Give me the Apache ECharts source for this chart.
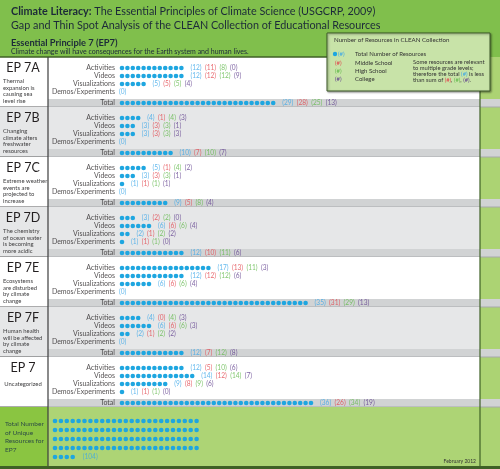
<!DOCTYPE html>
<html>
<head>
<meta charset="utf-8">
<script src="https://cdn.jsdelivr.net/npm/echarts@6/dist/echarts.min.js"></script>
<style>
html,body{margin:0;padding:0;background:#fff}
#main{width:500px;height:469px}
</style>
</head>
<body>
<div id="main"></div>
<script>
// 数据
var sections = ['EP 7A', 'EP 7B', 'EP 7C', 'EP 7D', 'EP 7E', 'EP 7F', 'EP 7'];
var sectionNotes = [
    ['Thermal', 'expansion is', 'causing sea', 'level rise'],
    ['Changing', 'climate alters', 'freshwater', 'resources'],
    ['Extreme weather', 'events are', 'projected to', 'increase'],
    ['The chemistry', 'of ocean water', 'is becoming', 'more acidic'],
    ['Ecosystems', 'are disturbed', 'by climate', 'change'],
    ['Human health', 'will be affected', 'by climate', 'change'],
    ['Uncategorized']
];
var resourceTypes = ['Activities', 'Videos', 'Visualizations', 'Demos/Experiments'];
// 每节: [Activities, Videos, Visualizations, Demos/Experiments]
var totalRes   = [[12,12,5,0],[4,3,3,0],[5,3,1,0],[3,6,2,1],[17,12,6,0],[4,6,2,0],[12,14,9,1]];
var middleRes  = [[11,12,5,null],[1,3,3,null],[1,3,1,null],[2,6,1,1],[13,12,6,null],[0,6,1,null],[5,12,8,1]];
var highRes    = [[8,12,5,null],[4,3,3,null],[4,3,1,null],[2,6,2,1],[11,12,6,null],[4,6,2,null],[10,14,9,1]];
var collegeRes = [[0,9,4,null],[3,1,3,null],[2,1,1,null],[0,4,2,0],[3,6,4,null],[3,3,2,null],[6,7,6,0]];
var sectionTotal   = [29,10,9,12,35,12,36];
var sectionMiddle  = [28,7,5,10,31,7,26];
var sectionHigh    = [25,10,8,11,29,12,34];
var sectionCollege = [13,7,4,6,13,8,19];
var uniqueTotal = 104;

var myChart = echarts.init(document.getElementById('main'));

var FONT = 'Lato, "Noto Sans", sans-serif';
var DOT = 5.4, X0 = 122, TOP0 = 57, PITCH = 50;
var U_DOT = 5.9, U_PER_ROW = 25;
var BLUE = '#1ea6e0';
function rowY(s, r) { return TOP0 + PITCH * s + (r < 4 ? 11 + 8 * r : 46); }

function numText(t, m, h, c) {
    var s = '{b|(' + t + ')}';
    if (m != null) s += ' {r|(' + m + ')}';
    if (h != null) s += ' {g|(' + h + ')}';
    if (c != null) s += ' {p|(' + c + ')}';
    return s;
}
function labelX(n) { return n === 0 ? -3 / DOT : (n - 1) + 9 / DOT; }

var dots = [], numLabels = [], rowLabels = [];
for (var s = 0; s < sections.length; s++) {
    for (var r = 0; r < 4; r++) {
        var n = totalRes[s][r], y = rowY(s, r);
        for (var i = 0; i < n; i++) dots.push([i, y]);
        numLabels.push({value: [labelX(n), y], txt: numText(n, middleRes[s][r], highRes[s][r], collegeRes[s][r])});
        rowLabels.push({value: [-7 / DOT, y], txt: resourceTypes[r]});
    }
    var ty = rowY(s, 4);
    for (var j = 0; j < sectionTotal[s]; j++) dots.push([j, ty]);
    numLabels.push({value: [labelX(sectionTotal[s]), ty], txt: numText(sectionTotal[s], sectionMiddle[s], sectionHigh[s], sectionCollege[s])});
    rowLabels.push({value: [-7 / DOT, ty], txt: 'Total'});
}
var uDots = [];
for (var k = 0; k < uniqueTotal; k++) uDots.push([k % U_PER_ROW, Math.floor(k / U_PER_ROW)]);
var uLast = uniqueTotal % U_PER_ROW || U_PER_ROW;
var uLabel = [{value: [uLast - 1 + 10 / U_DOT, Math.floor((uniqueTotal - 1) / U_PER_ROW)], txt: '{b|(' + uniqueTotal + ')}'}];

var rich = {
    b: {color: '#3aa6e8', fontSize: 6.6, fontFamily: FONT},
    r: {color: '#e2434b', fontSize: 6.6, fontFamily: FONT},
    g: {color: '#5fb848', fontSize: 6.6, fontFamily: FONT},
    p: {color: '#5e3c8c', fontSize: 6.6, fontFamily: FONT}
};

// 背景和文字
var g = [];
g.push({type: 'rect', shape: {x: 0, y: 0, width: 500, height: 469}, style: {fill: '#ffffff'}});
g.push({type: 'rect', shape: {x: 0, y: 0, width: 500, height: 57}, style: {fill: '#80bf4c'}});
g.push({type: 'rect', shape: {x: 480, y: 57, width: 20, height: 410}, style: {fill: '#acd373'}});
var bgs = ['#ffffff', '#e6e7e8'];
for (var s2 = 0; s2 < sections.length; s2++) {
    var T = TOP0 + PITCH * s2;
    g.push({type: 'rect', shape: {x: 0, y: T, width: 480, height: PITCH}, style: {fill: bgs[s2 % 2]}});
    g.push({type: 'rect', shape: {x: 48, y: T + 42, width: 452, height: 8}, style: {fill: '#d1d3d4'}});
    g.push({type: 'line', shape: {x1: 48, y1: T + 50, x2: 500, y2: T + 50}, style: {stroke: '#a7a9ac', lineWidth: 1}});
    g.push({type: 'line', shape: {x1: 0, y1: T + 50, x2: 48, y2: T + 50}, style: {stroke: '#58595b', lineWidth: 1}});
    g.push({type: 'text', style: {text: sections[s2], x: 23, y: T + 11, textAlign: 'center', textVerticalAlign: 'middle', font: '12.5px ' + FONT, fill: '#231f20'}});
    var notes = sectionNotes[s2];
    for (var q = 0; q < notes.length; q++) {
        g.push({type: 'text', style: {text: notes[q], x: notes.length === 1 ? 23 : 3, y: (notes.length === 1 ? T + 27 : T + 24 + 6.7 * q), textAlign: notes.length === 1 ? 'center' : 'left', textVerticalAlign: 'middle', font: '5.9px ' + FONT, fill: '#414042'}});
    }
}
var B = TOP0 + PITCH * sections.length;
g.push({type: 'rect', shape: {x: 48, y: B, width: 432, height: 466 - B}, style: {fill: '#add475'}});
g.push({type: 'rect', shape: {x: 0, y: B, width: 48, height: 466 - B}, style: {fill: '#8ac541'}});
['Total Number', 'of Unique', 'Resources for', 'EP7'].forEach(function (t, i) {
    g.push({type: 'text', style: {text: t, x: 5, y: 424 + 8.5 * i, textVerticalAlign: 'middle', font: '6.5px ' + FONT, fill: '#2e4d45'}});
});
g.push({type: 'text', style: {text: 'February 2012', x: 476, y: 461, textAlign: 'right', textVerticalAlign: 'middle', font: '5px ' + FONT, fill: '#333'}});
g.push({type: 'rect', shape: {x: 0, y: 466, width: 500, height: 3}, style: {fill: '#3f6126'}});
g.push({type: 'line', shape: {x1: 0, y1: 57, x2: 480, y2: 57}, style: {stroke: '#3f6126', lineWidth: 1.5}});
g.push({type: 'line', shape: {x1: 48, y1: 57, x2: 48, y2: 466}, style: {stroke: '#3d3d3d', lineWidth: 1.2}});
g.push({type: 'line', shape: {x1: 480, y1: 57, x2: 480, y2: 466}, style: {stroke: '#3f6126', lineWidth: 1.2}});

// 标题
g.push({type: 'text', style: {text: '{t|Climate Literacy:} The Essential Principles of Climate Science (USGCRP, 2009)', x: 11, y: 12, textVerticalAlign: 'middle', font: '10.8px ' + FONT, fill: '#1c2a39', rich: {t: {fontWeight: 'bold', fontSize: 10.8, fontFamily: FONT, fill: '#1c2a39', color: '#1c2a39'}}}});
g.push({type: 'text', style: {text: 'Gap and Thin Spot Analysis of the CLEAN Collection of Educational Resources', x: 11, y: 25.5, textVerticalAlign: 'middle', font: '10.8px ' + FONT, fill: '#1c2a39'}});
g.push({type: 'text', style: {text: 'Essential Principle 7 (EP7)', x: 11, y: 43, textVerticalAlign: 'middle', font: 'bold 9.3px ' + FONT, fill: '#1c2a39'}});
g.push({type: 'text', style: {text: 'Climate change will have consequences for the Earth system and human lives.', x: 11, y: 52, textVerticalAlign: 'middle', font: '7px ' + FONT, fill: '#1c2a39'}});

// 图例框
g.push({type: 'rect', shape: {x: 327, y: 33, width: 163, height: 58}, style: {fill: '#c8e3a8', stroke: '#3f5a2a', lineWidth: 1, shadowBlur: 2, shadowColor: 'rgba(0,0,0,0.4)', shadowOffsetX: 1, shadowOffsetY: 1}});
g.push({type: 'text', style: {text: 'Number of Resources in CLEAN Collection', x: 334, y: 40, textVerticalAlign: 'middle', font: '6.2px ' + FONT, fill: '#333'}});
g.push({type: 'circle', shape: {cx: 335, cy: 54, r: 2.2}, style: {fill: BLUE}});
var legCols = ['#3aa6e8', '#e2434b', '#5fb848', '#5e3c8c'];
var legNames = ['Total Number of Resources', 'Middle School', 'High School', 'College'];
var legY = [54, 63, 71, 79];
for (var l = 0; l < 4; l++) {
    g.push({type: 'text', style: {text: '(#)', x: l === 0 ? 338 : 335, y: legY[l], textVerticalAlign: 'middle', font: '6px ' + FONT, fill: legCols[l]}});
    g.push({type: 'text', style: {text: legNames[l], x: 355, y: legY[l], textVerticalAlign: 'middle', font: '6px ' + FONT, fill: '#333'}});
}
var NF = 5.8;
var noteRich = {
    n: {fontSize: NF, fontFamily: FONT, fill: '#333', color: '#333'},
    b: {fontSize: NF, fontFamily: FONT, fill: legCols[0], color: legCols[0]},
    r: {fontSize: NF, fontFamily: FONT, fill: legCols[1], color: legCols[1]},
    g: {fontSize: NF, fontFamily: FONT, fill: legCols[2], color: legCols[2]},
    p: {fontSize: NF, fontFamily: FONT, fill: legCols[3], color: legCols[3]}
};
var noteLines = ['{n|Some resources are relevant}', '{n|to multiple grade levels;}',
    '{n|therefore the total }{b|(#)}{n| is less}', '{n|than sum of }{r|(#)}{n|, }{g|(#)}{n|, }{p|(#)}{n|.}'];
noteLines.forEach(function (t, i) {
    g.push({type: 'text', style: {text: t, x: 413, y: 62 + 5.9 * i, textVerticalAlign: 'middle', font: NF + 'px ' + FONT, rich: noteRich}});
});

var option = {
    animation: false,
    graphic: {elements: g},
    grid: [
        {left: X0, top: 0, width: 70 * DOT, height: 469},
        {left: 55, top: 421 - 4.5, width: U_PER_ROW * U_DOT, height: 45}
    ],
    xAxis: [
        {gridIndex: 0, type: 'value', min: 0, max: 70, show: false},
        {gridIndex: 1, type: 'value', min: 0, max: U_PER_ROW, show: false}
    ],
    yAxis: [
        {gridIndex: 0, type: 'value', min: 0, max: 469, inverse: true, show: false},
        {gridIndex: 1, type: 'value', min: -0.5, max: 4.5, inverse: true, show: false}
    ],
    series: [
        {type: 'scatter', xAxisIndex: 0, yAxisIndex: 0, symbolSize: 4.6, itemStyle: {color: BLUE, opacity: 1}, data: dots, silent: true, clip: false},
        {type: 'scatter', xAxisIndex: 0, yAxisIndex: 0, symbolSize: 0, data: numLabels, silent: true, clip: false,
            label: {show: true, position: 'right', distance: 0, formatter: function (p) { return p.data.txt; }, rich: rich}},
        {type: 'scatter', xAxisIndex: 0, yAxisIndex: 0, symbolSize: 0, data: rowLabels, silent: true, clip: false,
            label: {show: true, position: 'left', distance: 0, color: '#231f20', fontSize: 7, fontFamily: FONT, formatter: function (p) { return p.data.txt; }}},
        {type: 'scatter', xAxisIndex: 1, yAxisIndex: 1, symbolSize: 4.6, itemStyle: {color: BLUE, opacity: 1}, data: uDots, silent: true, clip: false},
        {type: 'scatter', xAxisIndex: 1, yAxisIndex: 1, symbolSize: 0, data: uLabel, silent: true, clip: false,
            label: {show: true, position: 'right', distance: 0, formatter: function (p) { return p.data.txt; }, rich: rich}}
    ]
};
myChart.setOption(option);
</script>
</body>
</html>
